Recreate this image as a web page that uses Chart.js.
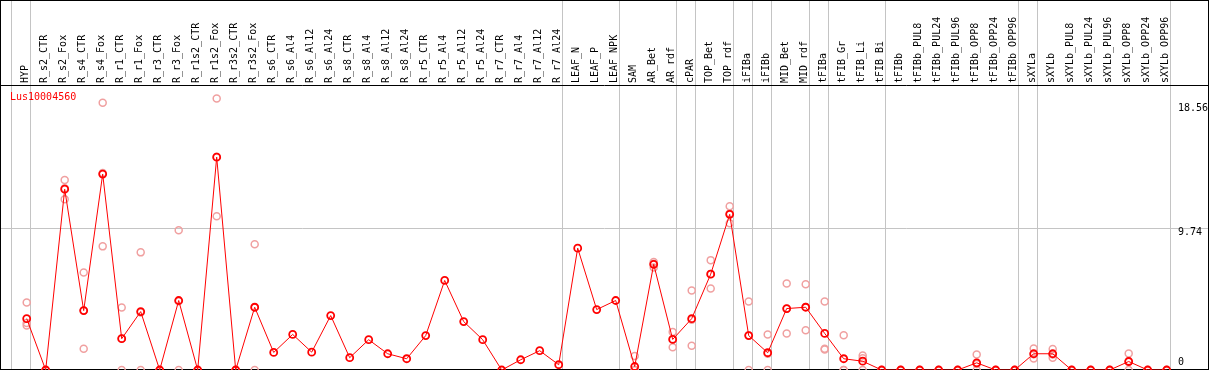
<!DOCTYPE html>
<html>
<head>
<meta charset="utf-8">
<title>Lus10004560</title>
<script src="https://cdn.jsdelivr.net/npm/chart.js@4/dist/chart.umd.min.js"></script>
<style>
  html, body { margin: 0; padding: 0; background: #fff; }
  #wrap { width: 1209px; height: 370px; }
</style>
</head>
<body>
<div id="wrap"><canvas id="chart" width="1209" height="370"></canvas></div>
<script>
// sample names (x categories)
const samples = [
    "HYP", "R_s2_CTR", "R_s2_Fox", "R_s4_CTR", "R_s4_Fox", "R_r1_CTR", "R_r1_Fox",
    "R_r3_CTR", "R_r3_Fox", "R_r1s2_CTR", "R_r1s2_Fox", "R_r3s2_CTR", "R_r3s2_Fox",
    "R_s6_CTR", "R_s6_Al4", "R_s6_Al12", "R_s6_Al24", "R_s8_CTR", "R_s8_Al4", "R_s8_Al12",
    "R_s8_Al24", "R_r5_CTR", "R_r5_Al4", "R_r5_Al12", "R_r5_Al24", "R_r7_CTR", "R_r7_Al4",
    "R_r7_Al12", "R_r7_Al24", "LEAF_N", "LEAF_P", "LEAF_NPK", "SAM", "AR_Bet", "AR_rdf",
    "cPAR", "TOP_Bet", "TOP_rdf", "iFIBa", "iFIBb", "MID_Bet", "MID_rdf", "tFIBa",
    "tFIB_Gr", "tFIB_Li", "tFIB_Bi", "tFIBb", "tFIBb_PUL8", "tFIBb_PUL24", "tFIBb_PUL96",
    "tFIBb_OPP8", "tFIBb_OPP24", "tFIBb_OPP96", "sXYLa", "sXYLb", "sXYLb_PUL8",
    "sXYLb_PUL24", "sXYLb_PUL96", "sXYLb_OPP8", "sXYLb_OPP24", "sXYLb_OPP96"
];

// mean expression per sample
const meanValues = [
    3.51, 0, 12.36, 4.06, 13.39, 2.14, 3.99, 0, 4.75, 0, 14.55, 0, 4.29,
    1.20, 2.43, 1.22, 3.72, 0.84, 2.07, 1.11, 0.77, 2.35, 6.12, 3.31, 2.07,
    0, 0.70, 1.32, 0.36, 8.33, 4.13, 4.75, 0.24, 7.22, 2.09, 3.51, 6.55, 10.64,
    2.35, 1.18, 4.20, 4.29, 2.50, 0.77, 0.60, 0, 0, 0, 0, 0, 0.49, 0, 0,
    1.11, 1.11, 0, 0, 0, 0.58, 0, 0
];

// replicates (null = no replicate shown)
const rep1 = [
    4.61, 0, 12.98, 6.67, 18.26, 4.27, 8.04, 0, 9.55, 0, 18.56, 0, 8.59,
    null, null, null, null, null, null, null, null, null, null, null, null,
    null, null, null, null, null, null, null, 0.95, 7.39, 2.59, 5.43, 7.51, 11.19,
    4.68, 2.43, 5.91, 5.86, 4.68, 2.37, 0.99, 0, 0, 0, 0, 0, 1.06, 0, 0,
    1.47, 1.43, 0, 0, 0, 1.13, 0, 0
];
const rep2 = [
    3.21, 0, 11.67, 1.45, 8.45, 0, 0, 0, 0, 0, 10.51, 0, 0,
    null, null, null, null, null, null, null, null, null, null, null, null,
    null, null, null, null, null, null, null, 0, 7.01, 1.56, 1.66, 5.57, 10.03,
    0, 0, 2.50, 2.71, 1.45, 0, 0.81, 0, 0, 0, 0, 0, 0, 0, 0,
    0.79, 0.84, 0, 0, 0, 0, 0, 0
];
const rep3 = [
    3.05, 0, 12.43, 4.06, 13.46, 2.15, 3.93, 0, 4.70, 0, 14.58, 0, 4.28,
    null, null, null, null, null, null, null, null, null, null, null, null,
    null, null, null, null, null, null, null, 0, 7.26, 2.12, 3.44, 6.57, 10.70,
    2.37, 1.11, 4.19, 4.30, 1.40, 0, 0, 0, 0, 0, 0, 0, 0.41, 0, 0,
    1.07, 1.06, 0, 0, 0, 0.61, 0, 0
];

// y axis: tick labels shown on the right, max value and range
const yTicks = [0, 9.74, 18.56];
const yMax = 19.48;
const geneName = "Lus10004560";

// sample index after which a group divider is drawn
const groupEnds = [-1, 0, 28, 31, 34, 35, 37, 38, 39, 41, 42, 45, 52, 53, 60];

document.addEventListener("DOMContentLoaded", function () {
    const mono = "'DejaVu Sans Mono', 'Liberation Mono', monospace";
    const red = "#ff0000";
    const pink = "#f0a0a0";

    const framePlugin = {
        id: "frame",
        beforeDatasetsDraw(chart) {
            const { ctx, width, height } = chart;
            const x = chart.scales.x;
            const y = chart.scales.y;
            ctx.save();
            ctx.lineWidth = 1;
            ctx.strokeStyle = "#c4c4c4";
            // group dividers, full height
            groupEnds.forEach(i => {
                const px = Math.round(x.getPixelForValue(i) + 3.6) + 0.5;
                ctx.beginPath();
                ctx.moveTo(px, 0);
                ctx.lineTo(px, height);
                ctx.stroke();
            });
            // middle grid line
            const gy = Math.round(y.getPixelForValue(yTicks[1])) + 0.5;
            ctx.beginPath();
            ctx.moveTo(1, gy);
            ctx.lineTo(width - 1, gy);
            ctx.stroke();

            // black frame and header line
            ctx.strokeStyle = "#000";
            ctx.strokeRect(0.5, 0.5, width - 1, height - 1);
            const top = Math.round(chart.chartArea.top) + 0.5;
            ctx.beginPath();
            ctx.moveTo(0, top);
            ctx.lineTo(width, top);
            ctx.stroke();
            ctx.restore();
        },
        afterDraw(chart) {
            const { ctx } = chart;
            const y = chart.scales.y;
            ctx.save();
            ctx.font = "10px " + mono;
            ctx.textBaseline = "middle";
            ctx.textAlign = "left";
            ctx.fillStyle = "#000";
            const offsets = [-8, 4.8, 10];
            yTicks.forEach((t, i) => {
                ctx.fillText(String(t), 1178, y.getPixelForValue(t) + offsets[i]);
            });
            ctx.fillStyle = red;
            ctx.fillText(geneName, 10, 97.5);
            ctx.restore();
        }
    };

    const repSet = (data) => ({
        label: "replicate",
        data: data,
        showLine: false,
        pointRadius: 3.5,
        pointBorderWidth: 1.5,
        pointBorderColor: pink,
        pointBackgroundColor: "rgba(0,0,0,0)",
        borderColor: pink,
        clip: false
    });

    const ctx = document.getElementById("chart").getContext("2d");
    new Chart(ctx, {
        type: "line",
        data: {
            labels: samples,
            datasets: [
                {
                    label: geneName,
                    data: meanValues,
                    borderColor: red,
                    borderWidth: 1,
                    tension: 0,
                    pointRadius: 3.5,
                    pointBorderWidth: 1.8,
                    pointBorderColor: red,
                    pointBackgroundColor: "rgba(0,0,0,0)",
                    clip: false
                },
                repSet(rep1),
                repSet(rep2),
                repSet(rep3)
            ]
        },
        options: {
            responsive: false,
            animation: false,
            devicePixelRatio: 1,
            layout: {
                autoPadding: false,
                padding: { left: 26.7, right: 42.3, top: 0, bottom: 0 }
            },
            plugins: {
                legend: { display: false },
                tooltip: { enabled: false },
                title: { display: false }
            },
            scales: {
                x: {
                    type: "category",
                    position: "top",
                    offset: false,
                    grid: { display: false, drawTicks: false },
                    border: { display: false },
                    ticks: {
                        autoSkip: false,
                        minRotation: 90,
                        maxRotation: 90,
                        padding: 2,
                        labelOffset: 10.5,
                        color: "#000",
                        font: { family: mono, size: 10 }
                    },
                    afterFit: scale => { scale.height = 85; }
                },
                y: {
                    display: false,
                    min: 0,
                    max: yMax
                }
            }
        },
        plugins: [framePlugin]
    });
});
</script>
</body>
</html>
